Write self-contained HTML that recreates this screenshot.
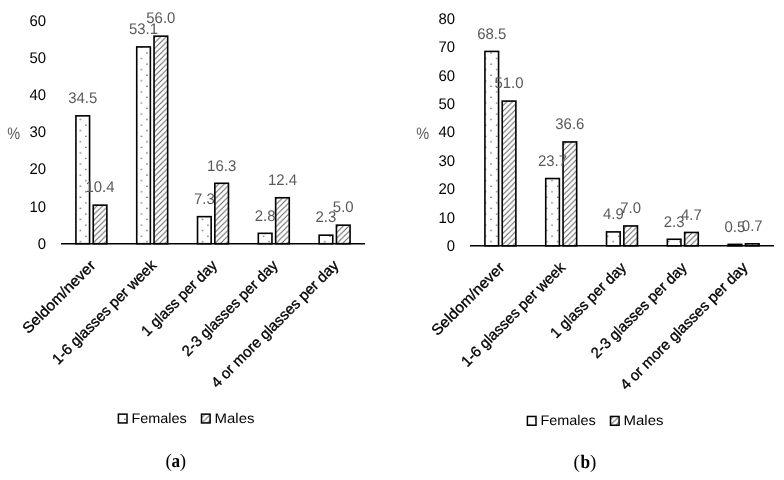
<!DOCTYPE html>
<html><head><meta charset="utf-8"><style>
html,body{margin:0;padding:0;background:#fff;}
svg{display:block;text-rendering:geometricPrecision;filter:grayscale(100%);}
text{font-family:"Liberation Sans", sans-serif;}
text.b{stroke:#000;stroke-width:0.35px;}
text.g{stroke:#595959;stroke-width:0.3px;}
text.serif{font-family:"Liberation Serif", serif;}
</style></head><body>
<svg width="784" height="480" viewBox="0 0 784 480">
<rect width="784" height="480" fill="#fff"/>
<defs>
<pattern id="dots" patternUnits="userSpaceOnUse" width="11.1" height="11.1" x="0" y="0">
<rect x="0" y="0" width="11.1" height="11.1" fill="#fff"/>
<rect x="2.1" y="8.0" width="1.2" height="1.2" fill="#333"/>
<rect x="7.6" y="2.5" width="1.2" height="1.2" fill="#444"/>
</pattern>
<pattern id="hatch" patternUnits="userSpaceOnUse" width="5.55" height="5.55" x="0" y="0.5">
<rect x="0" y="0" width="5.55" height="5.55" fill="#fff"/>
<path d="M-1,3.7 L3.7,-1 M1.7,6.55 L6.55,1.7" stroke="#606060" stroke-width="1.0"/>
</pattern>
<pattern id="hatch2" patternUnits="userSpaceOnUse" width="5.55" height="5.55" x="0.9" y="0">
<rect x="0" y="0" width="5.55" height="5.55" fill="#fff"/>
<path d="M-1,3.7 L3.7,-1 M1.7,6.55 L6.55,1.7" stroke="#606060" stroke-width="1.0"/>
</pattern>
</defs>
<text x="46.10" y="248.60" text-anchor="end" font-size="15.4" textLength="8.3" lengthAdjust="spacingAndGlyphs" fill="#000">0</text>
<text x="46.10" y="211.54" text-anchor="end" font-size="15.4" textLength="16.6" lengthAdjust="spacingAndGlyphs" fill="#000">10</text>
<text x="46.10" y="174.48" text-anchor="end" font-size="15.4" textLength="16.6" lengthAdjust="spacingAndGlyphs" fill="#000">20</text>
<text x="46.10" y="137.42" text-anchor="end" font-size="15.4" textLength="16.6" lengthAdjust="spacingAndGlyphs" fill="#000">30</text>
<text x="46.10" y="100.36" text-anchor="end" font-size="15.4" textLength="16.6" lengthAdjust="spacingAndGlyphs" fill="#000">40</text>
<text x="46.10" y="63.30" text-anchor="end" font-size="15.4" textLength="16.6" lengthAdjust="spacingAndGlyphs" fill="#000">50</text>
<text x="46.10" y="26.24" text-anchor="end" font-size="15.4" textLength="16.6" lengthAdjust="spacingAndGlyphs" fill="#000">60</text>
<text x="7.30" y="138.5" font-size="16.6" textLength="12.9" lengthAdjust="spacingAndGlyphs" fill="#595959">%</text>
<text x="96.35" y="266.35" text-anchor="end" class="b" font-size="15" textLength="95.9" lengthAdjust="spacingAndGlyphs" fill="#000" transform="rotate(-45 96.35 266.35)">Seldom/never</text>
<text x="157.15" y="266.35" text-anchor="end" class="b" font-size="15" textLength="140.0" lengthAdjust="spacingAndGlyphs" fill="#000" transform="rotate(-45 157.15 266.35)">1-6 glasses per week</text>
<text x="217.95" y="266.35" text-anchor="end" class="b" font-size="15" textLength="99.8" lengthAdjust="spacingAndGlyphs" fill="#000" transform="rotate(-45 217.95 266.35)">1 glass per day</text>
<text x="278.75" y="266.35" text-anchor="end" class="b" font-size="15" textLength="128.2" lengthAdjust="spacingAndGlyphs" fill="#000" transform="rotate(-45 278.75 266.35)">2-3 glasses per day</text>
<text x="339.55" y="266.35" text-anchor="end" class="b" font-size="15" textLength="173.1" lengthAdjust="spacingAndGlyphs" fill="#000" transform="rotate(-45 339.55 266.35)">4 or more glasses per day</text>
<rect x="75.93" y="115.84" width="13.63" height="127.86" fill="url(#dots)" stroke="#000" stroke-width="1.6"/>
<rect x="93.24" y="205.16" width="13.63" height="38.54" fill="url(#hatch)" stroke="#000" stroke-width="1.6"/>
<rect x="136.73" y="46.91" width="13.63" height="196.79" fill="url(#dots)" stroke="#000" stroke-width="1.6"/>
<rect x="154.04" y="36.16" width="13.63" height="207.54" fill="url(#hatch)" stroke="#000" stroke-width="1.6"/>
<rect x="197.53" y="216.65" width="13.63" height="27.05" fill="url(#dots)" stroke="#000" stroke-width="1.6"/>
<rect x="214.84" y="183.29" width="13.63" height="60.41" fill="url(#hatch)" stroke="#000" stroke-width="1.6"/>
<rect x="258.33" y="233.32" width="13.63" height="10.38" fill="url(#dots)" stroke="#000" stroke-width="1.6"/>
<rect x="275.64" y="197.75" width="13.63" height="45.95" fill="url(#hatch)" stroke="#000" stroke-width="1.6"/>
<rect x="319.13" y="235.18" width="13.63" height="8.52" fill="url(#dots)" stroke="#000" stroke-width="1.6"/>
<rect x="336.44" y="225.17" width="13.63" height="18.53" fill="url(#hatch)" stroke="#000" stroke-width="1.6"/>
<line x1="61.00" y1="243.70" x2="365.00" y2="243.70" stroke="#000" stroke-width="1.6"/>
<text x="82.75" y="103.14" text-anchor="middle" font-size="15.4" textLength="29.1" lengthAdjust="spacingAndGlyphs" fill="#595959">34.5</text>
<text x="100.06" y="192.46" text-anchor="middle" font-size="15.4" textLength="29.1" lengthAdjust="spacingAndGlyphs" fill="#595959">10.4</text>
<text x="143.54" y="34.21" text-anchor="middle" font-size="15.4" textLength="29.1" lengthAdjust="spacingAndGlyphs" fill="#595959">53.1</text>
<text x="160.85" y="23.46" text-anchor="middle" font-size="15.4" textLength="29.1" lengthAdjust="spacingAndGlyphs" fill="#595959">56.0</text>
<text x="204.34" y="203.95" text-anchor="middle" font-size="15.4" textLength="20.8" lengthAdjust="spacingAndGlyphs" fill="#595959">7.3</text>
<text x="221.66" y="170.59" text-anchor="middle" font-size="15.4" textLength="29.1" lengthAdjust="spacingAndGlyphs" fill="#595959">16.3</text>
<text x="265.14" y="220.62" text-anchor="middle" font-size="15.4" textLength="20.8" lengthAdjust="spacingAndGlyphs" fill="#595959">2.8</text>
<text x="282.45" y="185.05" text-anchor="middle" font-size="15.4" textLength="29.1" lengthAdjust="spacingAndGlyphs" fill="#595959">12.4</text>
<text x="325.94" y="222.48" text-anchor="middle" font-size="15.4" textLength="20.8" lengthAdjust="spacingAndGlyphs" fill="#595959">2.3</text>
<text x="343.25" y="212.47" text-anchor="middle" font-size="15.4" textLength="20.8" lengthAdjust="spacingAndGlyphs" fill="#595959">5.0</text>
<rect x="118.40" y="414.15" width="8.6" height="8.8" fill="url(#dots)" stroke="#000" stroke-width="1.5"/>
<text x="131.40" y="423.30" font-size="14" textLength="55.4" lengthAdjust="spacingAndGlyphs" fill="#000">Females</text>
<rect x="201.50" y="414.15" width="8.6" height="8.8" fill="url(#hatch)" stroke="#000" stroke-width="1.5"/>
<text x="214.60" y="423.30" font-size="14" textLength="39.9" lengthAdjust="spacingAndGlyphs" fill="#000">Males</text>
<text x="165.60" y="467.30" class="serif" font-size="19" fill="#000">(</text>
<text x="175.70" y="467.30" text-anchor="middle" class="serif" font-size="19" font-weight="bold" textLength="8.6" lengthAdjust="spacingAndGlyphs" fill="#000">a</text>
<text x="186.20" y="467.30" text-anchor="end" class="serif" font-size="19" fill="#000">)</text>
<text x="455.10" y="250.90" text-anchor="end" font-size="15.4" textLength="8.3" lengthAdjust="spacingAndGlyphs" fill="#000">0</text>
<text x="455.10" y="222.53" text-anchor="end" font-size="15.4" textLength="16.6" lengthAdjust="spacingAndGlyphs" fill="#000">10</text>
<text x="455.10" y="194.15" text-anchor="end" font-size="15.4" textLength="16.6" lengthAdjust="spacingAndGlyphs" fill="#000">20</text>
<text x="455.10" y="165.78" text-anchor="end" font-size="15.4" textLength="16.6" lengthAdjust="spacingAndGlyphs" fill="#000">30</text>
<text x="455.10" y="137.40" text-anchor="end" font-size="15.4" textLength="16.6" lengthAdjust="spacingAndGlyphs" fill="#000">40</text>
<text x="455.10" y="109.03" text-anchor="end" font-size="15.4" textLength="16.6" lengthAdjust="spacingAndGlyphs" fill="#000">50</text>
<text x="455.10" y="80.65" text-anchor="end" font-size="15.4" textLength="16.6" lengthAdjust="spacingAndGlyphs" fill="#000">60</text>
<text x="455.10" y="52.28" text-anchor="end" font-size="15.4" textLength="16.6" lengthAdjust="spacingAndGlyphs" fill="#000">70</text>
<text x="455.10" y="23.90" text-anchor="end" font-size="15.4" textLength="16.6" lengthAdjust="spacingAndGlyphs" fill="#000">80</text>
<text x="416.30" y="138.5" font-size="16.6" textLength="12.9" lengthAdjust="spacingAndGlyphs" fill="#595959">%</text>
<text x="505.35" y="268.45" text-anchor="end" class="b" font-size="15" textLength="95.9" lengthAdjust="spacingAndGlyphs" fill="#000" transform="rotate(-45 505.35 268.45)">Seldom/never</text>
<text x="566.15" y="268.45" text-anchor="end" class="b" font-size="15" textLength="140.0" lengthAdjust="spacingAndGlyphs" fill="#000" transform="rotate(-45 566.15 268.45)">1-6 glasses per week</text>
<text x="626.95" y="268.45" text-anchor="end" class="b" font-size="15" textLength="99.8" lengthAdjust="spacingAndGlyphs" fill="#000" transform="rotate(-45 626.95 268.45)">1 glass per day</text>
<text x="687.75" y="268.45" text-anchor="end" class="b" font-size="15" textLength="128.2" lengthAdjust="spacingAndGlyphs" fill="#000" transform="rotate(-45 687.75 268.45)">2-3 glasses per day</text>
<text x="748.55" y="268.45" text-anchor="end" class="b" font-size="15" textLength="173.1" lengthAdjust="spacingAndGlyphs" fill="#000" transform="rotate(-45 748.55 268.45)">4 or more glasses per day</text>
<rect x="484.93" y="51.43" width="13.63" height="194.37" fill="url(#dots)" stroke="#000" stroke-width="1.6"/>
<rect x="502.24" y="101.09" width="13.63" height="144.71" fill="url(#hatch2)" stroke="#000" stroke-width="1.6"/>
<rect x="545.73" y="178.55" width="13.63" height="67.25" fill="url(#dots)" stroke="#000" stroke-width="1.6"/>
<rect x="563.04" y="141.95" width="13.63" height="103.85" fill="url(#hatch2)" stroke="#000" stroke-width="1.6"/>
<rect x="606.53" y="231.90" width="13.63" height="13.90" fill="url(#dots)" stroke="#000" stroke-width="1.6"/>
<rect x="623.84" y="225.94" width="13.63" height="19.86" fill="url(#hatch2)" stroke="#000" stroke-width="1.6"/>
<rect x="667.33" y="239.27" width="13.63" height="6.53" fill="url(#dots)" stroke="#000" stroke-width="1.6"/>
<rect x="684.64" y="232.46" width="13.63" height="13.34" fill="url(#hatch2)" stroke="#000" stroke-width="1.6"/>
<rect x="728.13" y="244.38" width="13.63" height="1.42" fill="url(#dots)" stroke="#000" stroke-width="1.6"/>
<rect x="745.44" y="243.81" width="13.63" height="1.99" fill="url(#hatch2)" stroke="#000" stroke-width="1.6"/>
<line x1="470.00" y1="245.80" x2="774.00" y2="245.80" stroke="#000" stroke-width="1.6"/>
<text x="491.75" y="38.73" text-anchor="middle" font-size="15.4" textLength="29.1" lengthAdjust="spacingAndGlyphs" fill="#595959">68.5</text>
<text x="509.05" y="88.39" text-anchor="middle" font-size="15.4" textLength="29.1" lengthAdjust="spacingAndGlyphs" fill="#595959">51.0</text>
<text x="552.55" y="165.85" text-anchor="middle" font-size="15.4" textLength="29.1" lengthAdjust="spacingAndGlyphs" fill="#595959">23.7</text>
<text x="569.86" y="129.25" text-anchor="middle" font-size="15.4" textLength="29.1" lengthAdjust="spacingAndGlyphs" fill="#595959">36.6</text>
<text x="613.35" y="219.20" text-anchor="middle" font-size="15.4" textLength="20.8" lengthAdjust="spacingAndGlyphs" fill="#595959">4.9</text>
<text x="630.66" y="213.24" text-anchor="middle" font-size="15.4" textLength="20.8" lengthAdjust="spacingAndGlyphs" fill="#595959">7.0</text>
<text x="674.14" y="226.57" text-anchor="middle" font-size="15.4" textLength="20.8" lengthAdjust="spacingAndGlyphs" fill="#595959">2.3</text>
<text x="691.46" y="219.76" text-anchor="middle" font-size="15.4" textLength="20.8" lengthAdjust="spacingAndGlyphs" fill="#595959">4.7</text>
<text x="734.94" y="231.68" text-anchor="middle" font-size="15.4" textLength="20.8" lengthAdjust="spacingAndGlyphs" fill="#595959">0.5</text>
<text x="752.25" y="231.11" text-anchor="middle" font-size="15.4" textLength="20.8" lengthAdjust="spacingAndGlyphs" fill="#595959">0.7</text>
<rect x="527.40" y="416.45" width="8.6" height="8.8" fill="url(#dots)" stroke="#000" stroke-width="1.5"/>
<text x="540.40" y="425.40" font-size="14" textLength="55.4" lengthAdjust="spacingAndGlyphs" fill="#000">Females</text>
<rect x="610.50" y="416.45" width="8.6" height="8.8" fill="url(#hatch)" stroke="#000" stroke-width="1.5"/>
<text x="623.60" y="425.40" font-size="14" textLength="39.9" lengthAdjust="spacingAndGlyphs" fill="#000">Males</text>
<text x="573.50" y="467.60" class="serif" font-size="19" fill="#000">(</text>
<text x="585.40" y="467.60" text-anchor="middle" class="serif" font-size="19" font-weight="bold" textLength="9.6" lengthAdjust="spacingAndGlyphs" fill="#000">b</text>
<text x="596.40" y="467.60" text-anchor="end" class="serif" font-size="19" fill="#000">)</text>
</svg>
</body></html>
